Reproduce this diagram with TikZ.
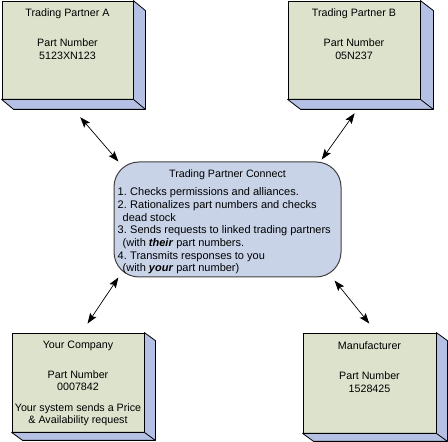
\documentclass[tikz,border=0pt]{standalone}
\usepackage{fontspec}
\setmainfont{Liberation Sans}
\usetikzlibrary{positioning,arrows.meta,calc}

\definecolor{facegreen}{RGB}{221,226,205}
\definecolor{sideblue}{RGB}{180,192,228}
\definecolor{hubblue}{RGB}{200,211,232}
\definecolor{hubline}{RGB}{64,64,64}

\newcommand{\itemno}[1]{\makebox[12.5pt][l]{#1}}

\begin{document}
\begin{tikzpicture}[
    x=1pt, y=1pt,
    txt/.style={font=\fontsize{10.7}{12.5}\selectfont, align=center, inner sep=0pt},
    face/.style={rectangle, draw, line width=0.8pt, fill=facegreen, inner sep=0pt},
    depth/.style={draw, line width=0.8pt, fill=sideblue, line join=round},
    hub/.style={rectangle, draw=hubline, line width=1pt, fill=hubblue, rounded corners=25pt,
        inner sep=0pt, minimum width=227pt, minimum height=115pt},
    arrow/.style={{Stealth[length=10.5pt,width=7.5pt,inset=2pt]}-{Stealth[length=10.5pt,width=7.5pt,inset=2pt]},
        line width=0.7pt}
]
\useasboundingbox (0,0) rectangle (448,442);

% Trading partners (top)
\node[face, minimum width=131pt, minimum height=98pt] (parta) at (67.5,392) {};
\node[face, minimum width=132pt, minimum height=98pt] (partb) at (354,392) {};

% Your company and manufacturer (bottom)
\node[face, minimum width=132pt, minimum height=99pt] (yourco) at (78,59.5) {};
\node[face, minimum width=133pt, minimum height=100pt] (maker) at (369.5,59) {};

% Box sides
\foreach \n/\dx/\dy in {parta/12/10, partb/13/10, yourco/11/8, maker/11/8} {
    \draw[depth] (\n.north east) -- ++(\dx,-\dy) -- ($(\n.south east)+(\dx,-\dy)$)
        -- ($(\n.south west)+(\dx,-\dy)$) -- (\n.south west) -- (\n.south east) -- cycle;
    \draw[line width=0.8pt] (\n.south east) -- ++(\dx,-\dy);
}

% Box texts
\node[txt, below=8pt of parta.north] (parta_txt) {Trading Partner A\\[17.5pt]Part Number\\5123XN123};
\node[txt, below=8pt of partb.north] (partb_txt) {Trading Partner B\\[17.5pt]Part Number\\05N237};
\node[txt, below=8pt of yourco.north] (yourco_txt) {Your Company\\[17.5pt]Part Number\\0007842\\[8pt]
    Your system sends a Price\\\& Availability request};
\node[txt, below=9pt of maker.north] (maker_txt) {Manufacturer\\[17.5pt]Part Number\\1528425};

% Trading Partner Connect
\node[hub] (hub) at (227.5,222.5) {};
\node[txt, below=8pt of hub.north] (hub_title) {Trading Partner Connect};
\node[txt, font=\fontsize{11}{12.7}\selectfont, align=left, below right=26pt and 4pt of hub.north west] (hub_list) {%
    \itemno{1.}Checks permissions and alliances.\\
    \itemno{2.}Rationalizes part numbers and checks\\
    \hspace*{5pt}dead stock\\
    \itemno{3.}Sends requests to linked trading partners\\
    \hspace*{5pt}(with \textbf{\textit{their}} part numbers.\\
    \itemno{4.}Transmits responses to you\\
    \hspace*{5pt}(with \textbf{\textit{your}} part number)};

% Arrows
\draw[arrow, shorten <=23.5pt] (parta.267) -- (hub.152);
\draw[arrow, shorten <=17pt, shorten >=2.4pt] (partb.282) -- (hub.32);
\draw[arrow, shorten <=10.8pt] (yourco.86) -- (hub.208);
\draw[arrow, shorten <=11.6pt, shorten >=3.9pt] (maker.82) -- (hub.331);

\end{tikzpicture}
\end{document}
